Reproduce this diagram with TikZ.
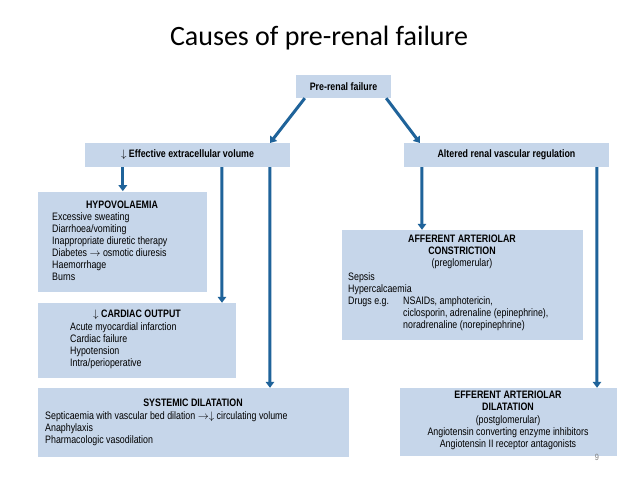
\documentclass[tikz,border=0pt]{standalone}
\usepackage{fontspec}
\usetikzlibrary{arrows.meta}
\setmainfont{Liberation Sans}[FakeStretch=0.82]
\newfontfamily\titlefont{Carlito}
\begin{document}
\begin{tikzpicture}[x=1pt,y=-1pt,
  box/.style={draw=none,fill=boxblue,inner sep=0pt},
  arr/.style={draw=arrblue,line width=3pt,-{Triangle[length=6pt,width=8.5pt]}},
  txt/.style={inner sep=0pt,font=\fontsize{10.8}{12}\selectfont,align=left},
  hd/.style={inner sep=0pt,font=\fontsize{10.8}{12}\selectfont\bfseries,align=center}]
\definecolor{boxblue}{HTML}{C6D6EA}
\definecolor{arrblue}{HTML}{1F639A}
\useasboundingbox[fill=white] (0,0) rectangle (638,478);
\node[font=\titlefont\fontsize{28}{30}\selectfont] (title) at (319,38) {Causes of pre-renal failure};
% boxes
\node[box,minimum width=95pt,minimum height=23pt] (pre) at (343.5,86.5) {};
\node[font=\fontsize{10.8}{12}\selectfont\bfseries,inner sep=0pt] (pret) at (pre) {Pre-renal failure};
\node[box,minimum width=205pt,minimum height=24pt] (eff) at (187.5,155) {};
\node[hd] (efft) at (eff) {$\downarrow$ Effective extracellular volume};
\node[box,minimum width=205pt,minimum height=24pt] (alt) at (506.5,155) {};
\node[hd] (altt) at (alt) {Altered renal vascular regulation};
\node[box,minimum width=169pt,minimum height=100pt] (hyp) at (122.5,242) {};
\node[box,minimum width=198pt,minimum height=75pt] (car) at (137,340.5) {};
\node[box,minimum width=311pt,minimum height=69pt] (sys) at (193.5,422.5) {};
\node[box,minimum width=241pt,minimum height=110pt] (aff) at (462.5,285) {};
\node[box,minimum width=217pt,minimum height=68pt] (efr) at (508.5,422) {};
% texts
\node[hd,anchor=north] (hyph) at (122,201) {HYPOVOLAEMIA};
\node[txt,anchor=north west] (hypl) at (52,212) {Excessive sweating\\Diarrhoea/vomiting\\Inappropriate diuretic therapy\\Diabetes $\rightarrow$ osmotic diuresis\\Haemorrhage\\Burns};
\node[hd,anchor=north] (carh) at (137,310) {$\downarrow$ CARDIAC OUTPUT};
\node[txt,anchor=north west] (carl) at (70,322) {Acute myocardial infarction\\Cardiac failure\\Hypotension\\Intra/perioperative};
\node[hd,anchor=north] (sysh) at (193,399) {SYSTEMIC DILATATION};
\node[txt,anchor=north west] (sysl) at (45,411) {Septicaemia with vascular bed dilation $\rightarrow\downarrow$ circulating volume\\Anaphylaxis\\Pharmacologic vasodilation};
\node[hd,anchor=north] (affh) at (462,235) {AFFERENT ARTERIOLAR\\CONSTRICTION\\\mdseries (preglomerular)};
\node[txt,anchor=north west] (affl) at (348,272) {Sepsis\\Hypercalcaemia\\Drugs e.g.};
\node[txt,anchor=north west] (affd) at (403,296) {NSAIDs, amphotericin,\\ciclosporin, adrenaline (epinephrine),\\noradrenaline (norepinephrine)};
\node[hd,anchor=north] (efrh) at (508,391) {EFFERENT ARTERIOLAR\\DILATATION};
\node[txt,anchor=north,align=center] (efrl) at (508,415) {(postglomerular)\\Angiotensin converting enzyme inhibitors\\Angiotensin II receptor antagonists};
\node[text=gray,font=\fontsize{9}{10}\selectfont] (pg) at (597,457) {9};
% arrows
\draw[arr] (pre.south west)++(9,0) coordinate (p1) -- (270,143) coordinate (e1);
\draw[arr] (pre.south east)++(-5,0) coordinate (p2) -- (420,143) coordinate (a1);
\draw[arr] (eff.south west)++(38,0) -- ++(0,24);
\draw[arr] (eff.south west)++(137,0) -- (car.north west -| 222,0);
\draw[arr] (eff.south west)++(185,0) -- (sys.north west -| 270,0);
\draw[arr] (alt.south west)++(18,0) -- (aff.north west -| 422,0);
\draw[arr] (alt.south west)++(193,0) -- (efr.north west -| 597,0);
\end{tikzpicture}
\end{document}
